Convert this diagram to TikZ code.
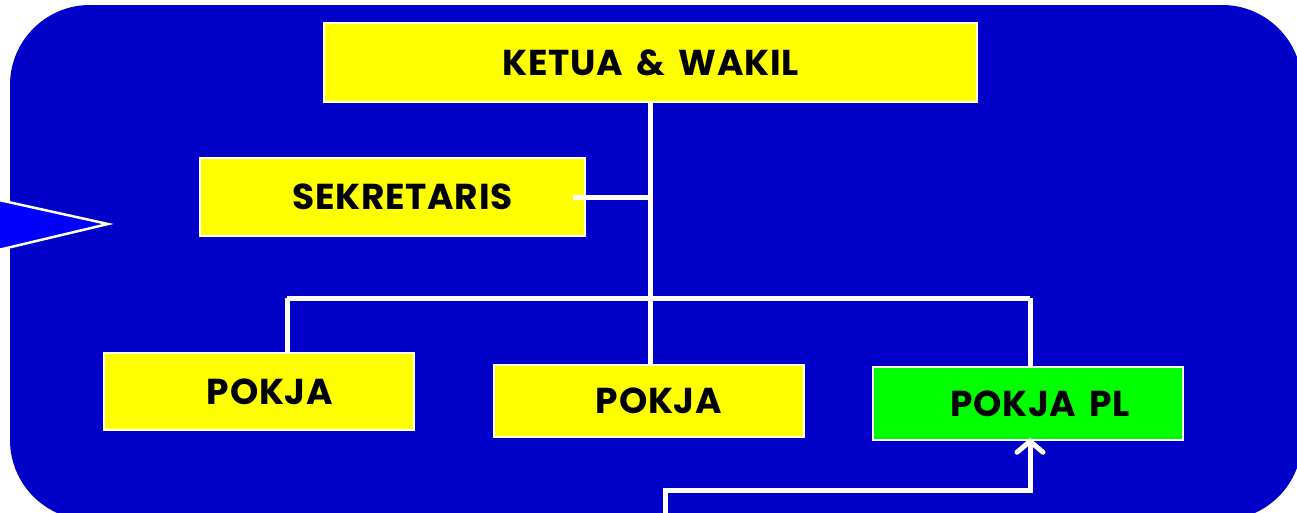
\documentclass[tikz,border=0pt]{standalone}
\usepackage{fontspec}
\setmainfont{Poppins}[BoldFont={* Bold}, LetterSpace=2, WordSpace=1.6]
\usetikzlibrary{arrows.meta}
\definecolor{panel}{RGB}{0,0,200}
\definecolor{pointer}{RGB}{0,0,255}
\definecolor{boxyellow}{RGB}{255,255,0}
\definecolor{boxgreen}{RGB}{0,255,0}
\tikzset{
  orgbox/.style={draw=white, line width=2pt, fill=boxyellow, inner sep=0pt,
    font=\fontsize{36}{40}\selectfont\bfseries, text=black},
  wire/.style={draw=white, line width=5pt},
}
\begin{document}
\begin{tikzpicture}[x=1pt, y=-1pt]
\useasboundingbox (0,0) rectangle (1297,512);
% background panel
\fill[panel, rounded corners=80pt] (10,5) rectangle (1302,520);
% pointer on the left edge
\filldraw[fill=pointer, draw=white, line width=2.5pt, line join=miter]
  (-10,198) -- (108,224) -- (-10,252);
% boxes
\node[orgbox, minimum width=653pt, minimum height=79pt] (k) at (650.5,62.5) {KETUA \& WAKIL};
\node[orgbox, minimum width=385pt, minimum height=78pt] (s) at (392.5,197) {\hspace*{20pt}SEKRETARIS};
\node[orgbox, minimum width=310pt, minimum height=77pt] (p1) at (259,391.5) {\hspace*{22pt}POKJA};
\node[orgbox, minimum width=310pt, minimum height=72pt] (p2) at (649,401) {\hspace*{20pt}POKJA};
\node[orgbox, fill=boxgreen, minimum width=310pt, minimum height=73pt] (p3) at (1028,403.5) {\hspace*{24pt}POKJA PL};
% connectors
\coordinate (j) at (650,197);
\coordinate (lt) at (287,298);
\coordinate (rt) at (1030,298);
\coordinate (bend) at (665,490);
\coordinate (turn) at (1030,490);
\coordinate (feed) at (665,520);
\draw[wire] (k.south -| j) -- (j |- p2.north);
\draw[wire] ([xshift=-13pt]s.east) -- (j);
\draw[wire] (lt) -- (rt);
\draw[wire] (lt) -- (lt |- p1.north);
\draw[wire] (rt) -- (rt |- p3.north);
\draw[wire, -{Straight Barb[length=11pt, width=26pt, line cap=round]}]
  (feed) -- (bend) -- (turn) -- ([yshift=3pt]turn |- p3.south);
\end{tikzpicture}
\end{document}
